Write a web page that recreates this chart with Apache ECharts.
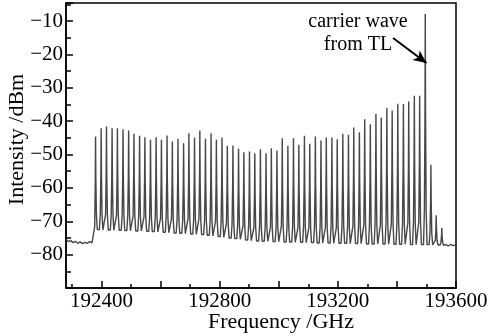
<!DOCTYPE html>
<html>
<head>
<meta charset="utf-8">
<script src="https://cdn.jsdelivr.net/npm/echarts@6/dist/echarts.min.js"></script>
<style>
  html, body { margin: 0; padding: 0; background: #fff; }
  #chart { width: 492px; height: 336px; }
</style>
</head>
<body>
<div id="chart"></div>
<script>
// comb line centres (GHz)
const peakFreq = [
  192380, 192399, 192417, 192436, 192454, 192473, 192492, 192510, 192529, 192547,
  192566, 192585, 192603, 192622, 192640, 192659, 192678, 192696, 192715, 192733,
  192752, 192771, 192789, 192808, 192826, 192845, 192864, 192882, 192901, 192919,
  192938, 192957, 192975, 192994, 193012, 193031, 193050, 193068, 193087, 193105,
  193124, 193143, 193161, 193180, 193198, 193217, 193236, 193254, 193273, 193291,
  193310, 193329, 193347, 193366, 193384, 193403, 193422, 193440, 193459, 193477,
  193496, 193515, 193533, 193552
]
// peak power (dBm)
const peakLevel = [
  -44.6, -42.1, -41.6, -42.1, -42.1, -42.4, -42.8, -43.8, -44.4, -44.8,
  -45.6, -44.8, -45.6, -44.3, -46.1, -45.3, -46.6, -43.6, -44.9, -42.8,
  -45.3, -43.6, -45.6, -44.9, -47.4, -47.3, -48.3, -49.3, -49.1, -49.6,
  -48.4, -49.6, -48.1, -48.8, -45.1, -47.4, -45.1, -47.1, -44.4, -46.8,
  -44.6, -45.8, -44.9, -44.9, -45.4, -43.8, -44.1, -41.9, -43.3, -39.4,
  -40.9, -37.8, -38.9, -36.1, -36.8, -34.8, -34.9, -34.1, -32.4, -32.4,
  -7.9, -53.1, -68.2, -72.0
]
// floor level right after each peak (dBm)
const floorLevel = [
  -72.5, -72.6, -72.6, -72.7, -72.7, -72.8, -72.8, -72.9, -72.9, -73.0,
  -73.1, -73.2, -73.3, -73.4, -73.5, -73.6, -73.7, -73.8, -73.9, -74.0,
  -74.2, -74.4, -74.6, -74.8, -75.0, -75.2, -75.4, -75.6, -75.8, -75.9,
  -76.0, -76.0, -76.1, -76.1, -76.2, -76.2, -76.3, -76.3, -76.4, -76.4,
  -76.5, -76.5, -76.5, -76.6, -76.6, -76.6, -76.7, -76.7, -76.7, -76.8,
  -76.8, -76.8, -76.8, -76.9, -76.9, -76.9, -76.9, -77.0, -77.0, -77.0,
  -77.0, -77.1, -77.1, -77.2
]
// noise floor outside the comb
const leftNoiseFreq = [192280, 192288, 192296, 192304, 192312, 192320, 192328, 192336, 192344, 192352, 192360, 192368]
const leftNoiseLevel = [-75.4, -76.1, -75.8, -76.4, -76.0, -76.6, -76.2, -76.7, -76.3, -76.6, -76.1, -76.5]
const rightNoiseFreq = [193566, 193574, 193582, 193590, 193600]
const rightNoiseLevel = [-77.0, -77.4, -76.9, -77.3, -77.1]

const xLabels = [192400, 192800, 193200, 193600]
const xMajorTicks = [192400, 192600, 192800, 193000, 193200, 193400, 193600]
const xMinorTicks = [192300, 192500, 192700, 192900, 193100, 193300, 193500]

// carrier annotation (data coords)
const arrowFrom = [193387, -15.1]
const arrowTo = [193500, -22.6]

const FONT = 'Liberation Serif'

// build the trace: narrow line shape around each comb centre
const trace = []
leftNoiseFreq.forEach((f, i) => trace.push([f, leftNoiseLevel[i]]))
let prevFloor = leftNoiseLevel[leftNoiseLevel.length - 1]
peakFreq.forEach((f, i) => {
  const top = peakLevel[i]
  const fl = floorLevel[i]
  trace.push([f - 6, prevFloor])
  trace.push([f - 3, prevFloor + 0.15 * (top - prevFloor)])
  trace.push([f - 1, prevFloor + 0.55 * (top - prevFloor)])
  trace.push([f, top])
  trace.push([f + 1, fl + 0.55 * (top - fl)])
  trace.push([f + 3, fl + 0.15 * (top - fl)])
  trace.push([f + 6, fl])
  prevFloor = fl
})
rightNoiseFreq.forEach((f, i) => trace.push([f, rightNoiseLevel[i]]))

const chart = echarts.init(document.getElementById('chart'), null, { renderer: 'canvas' })

const baseX = {
  type: 'value',
  min: 192280,
  max: 193600,
  splitLine: { show: false },
}

chart.setOption({
  animation: false,
  grid: {
    left: 66, right: 36, top: 3, bottom: 48,
    outerBoundsMode: 'none',
    containLabel: false,
    show: true, borderColor: '#000', borderWidth: 1.5,
  },
  xAxis: [
    {
      ...baseX,
      name: 'Frequency /GHz',
      nameLocation: 'middle',
      nameGap: 23,
      nameMoveOverlap: false,
      nameTextStyle: { fontFamily: FONT, fontSize: 22, color: '#000', padding: [0, 0, 0, 40] },
      axisLine: { lineStyle: { color: '#000', width: 1.5 } },
      axisTick: { inside: true, length: 7, customValues: xMajorTicks, lineStyle: { color: '#000', width: 1.5 } },
      axisLabel: {
        customValues: xLabels, fontFamily: FONT, fontSize: 21, color: '#000', margin: 3,
        formatter: v => String(v),
      },
    },
    {
      ...baseX,
      position: 'bottom',
      axisLine: { show: false },
      axisTick: { inside: true, length: 4, customValues: xMinorTicks, lineStyle: { color: '#000', width: 1.5 } },
      axisLabel: { show: false },
    },
  ],
  yAxis: {
    type: 'value',
    min: -90,
    max: -4.6,
    interval: 10,
    name: 'Intensity /dBm',
    nameLocation: 'middle',
    nameGap: 38,
    nameMoveOverlap: false,
    nameTextStyle: { fontFamily: FONT, fontSize: 22, color: '#000', padding: [0, 0, 0, 12] },
    axisLine: { show: true, lineStyle: { color: '#000', width: 1.5 } },
    axisTick: { inside: true, length: 7, lineStyle: { color: '#000', width: 1.5 } },
    minorTick: { show: true, splitNumber: 2, length: 5, lineStyle: { color: '#000', width: 1.5 } },
    splitLine: { show: false },
    axisLabel: {
      fontFamily: FONT, fontSize: 21, color: '#000', margin: 3,
      formatter: v => (v === -90 ? '' : String(v).replace('-', '\u2212')),
    },
  },
  series: [{
    type: 'line',
    data: trace,
    symbol: 'none',
    lineStyle: { color: '#474747', width: 1.4 },
    markLine: {
      silent: true,
      symbol: ['none', 'arrow'],
      symbolSize: [9, 13],
      label: { show: false },
      lineStyle: { color: '#000', width: 2, type: 'solid' },
      data: [[{ coord: arrowFrom }, { coord: arrowTo }]],
    },
  }],
  graphic: [
    {
      type: 'text', x: 358, y: 22,
      style: { text: 'carrier wave', font: '20px "Liberation Serif"', fill: '#000', align: 'center', verticalAlign: 'middle' },
    },
    {
      type: 'text', x: 358, y: 45,
      style: { text: 'from TL', font: '20px "Liberation Serif"', fill: '#000', align: 'center', verticalAlign: 'middle' },
    },
  ],
})
</script>
</body>
</html>
